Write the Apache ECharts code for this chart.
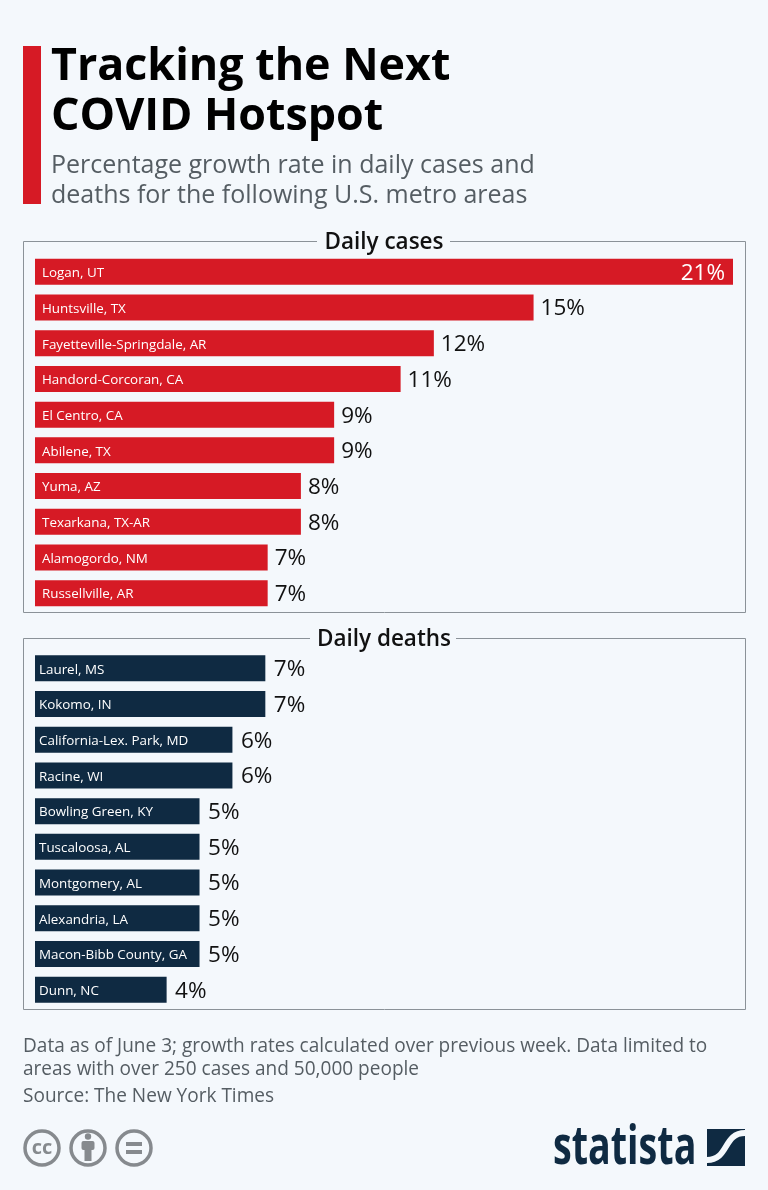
<!DOCTYPE html>
<html>
<head>
    <meta charset="UTF-8">
    <title>Tracking the Next COVID Hotspot</title>
    <style>
        html, body { margin: 0; padding: 0; background: #f4f8fc; }
        #chart { width: 768px; height: 1190px; }
    </style>
    <script src="https://cdn.jsdelivr.net/npm/echarts@6/dist/echarts.min.js"></script>
</head>
<body>
<div id="chart"></div>
<script>
    var caseCities = ['Logan, UT', 'Huntsville, TX', 'Fayetteville-Springdale, AR', 'Handord-Corcoran, CA', 'El Centro, CA',
        'Abilene, TX', 'Yuma, AZ', 'Texarkana, TX-AR', 'Alamogordo, NM', 'Russellville, AR'];
    var caseValues = [21, 15, 12, 11, 9, 9, 8, 8, 7, 7];
    var deathCities = ['Laurel, MS', 'Kokomo, IN', 'California-Lex. Park, MD', 'Racine, WI', 'Bowling Green, KY',
        'Tuscaloosa, AL', 'Montgomery, AL', 'Alexandria, LA', 'Macon-Bibb County, GA', 'Dunn, NC'];
    var deathValues = [7, 7, 6, 6, 5, 5, 5, 5, 5, 4];

    var PAGE = '#f4f8fc', RED = '#d61a25', NAVY = '#0f2a42', GREY = '#555d63', ICON = '#868a8e';
    var SANS = '"Open Sans", sans-serif';

    function text(x, y, str, size, color, weight, align) {
        return {
            type: 'text', x: x, y: y, z: 5,
            style: {
                text: str, fontSize: size, fill: color, fontFamily: SANS,
                fontWeight: weight || 'normal', align: align || 'left', verticalAlign: 'middle'
            }
        };
    }

    function circleIcon(cx) {
        return {type: 'circle', shape: {cx: cx, cy: 1148, r: 17}, style: {fill: 'none', stroke: ICON, lineWidth: 3.5}};
    }

    function valueAxis(idx, max) {
        return {gridIndex: idx, type: 'value', min: 0, max: max, show: false};
    }

    function cityAxis(idx, names, offset) {
        return {
            gridIndex: idx, type: 'category', data: names, inverse: true,
            axisLine: {show: false}, axisTick: {show: false}, splitLine: {show: false},
            axisLabel: {
                inside: true, margin: offset, formatter: '{city|{value}}',
                rich: {city: {color: '#fff', fontSize: 13.4, fontFamily: SANS, padding: [3, 0, 0, 0]}}
            },
            z: 3
        };
    }

    function barSeries(idx, values, color, gap) {
        return {
            type: 'bar', xAxisIndex: idx, yAxisIndex: idx, barWidth: 26, itemStyle: {color: color}, silent: true,
            label: {
                show: true, position: 'right', distance: gap, offset: [0, 1.5], formatter: '{c}%',
                fontSize: 22.5, color: '#111', fontFamily: SANS
            },
            data: values.map(function (v, i) {
                // the longest bar holds its label inside
                if (idx === 0 && i === 0) {
                    return {value: v, label: {position: 'insideRight', distance: 8, color: '#fff'}};
                }
                return v;
            })
        };
    }

    var chart = echarts.init(document.getElementById('chart'), null, {renderer: 'canvas'});
    chart.setOption({
        backgroundColor: PAGE,
        animation: false,
        grid: [
            {left: 35, width: 698, top: 254, height: 357},
            {left: 35, width: 691, top: 650.5, height: 357}
        ],
        xAxis: [valueAxis(0, 21), valueAxis(1, 21)],
        yAxis: [cityAxis(0, caseCities, 7), cityAxis(1, deathCities, 4)],
        series: [barSeries(0, caseValues, RED, 7), barSeries(1, deathValues, NAVY, 8.5)],
        graphic: [
            {type: 'rect', shape: {x: 23, y: 46, width: 18, height: 158}, style: {fill: RED}},
            text(51, 67, 'Tracking the Next', 44.8, '#000', 'bold'),
            text(51, 117, 'COVID Hotspot', 44.8, '#000', 'bold'),
            text(51, 166, 'Percentage growth rate in daily cases and', 25, GREY),
            text(51, 196, 'deaths for the following U.S. metro areas', 25, GREY),

            {type: 'rect', z: -1, shape: {x: 23.5, y: 241.5, width: 722, height: 371}, style: {fill: 'none', stroke: '#8b9298', lineWidth: 1}},
            {type: 'rect', z: 1, shape: {x: 317, y: 232, width: 133, height: 18}, style: {fill: PAGE}},
            text(384, 243, 'Daily cases', 22.5, '#111', '600', 'center'),
            {type: 'rect', z: -1, shape: {x: 23.5, y: 638.5, width: 722, height: 371}, style: {fill: 'none', stroke: '#8b9298', lineWidth: 1}},
            {type: 'rect', z: 1, shape: {x: 310, y: 629, width: 146, height: 18}, style: {fill: PAGE}},
            text(384, 640, 'Daily deaths', 22.5, '#111', '600', 'center'),

            text(23, 1047, 'Data as of June 3; growth rates calculated over previous week. Data limited to', 19.05, GREY),
            text(23, 1070, 'areas with over 250 cases and 50,000 people', 19.05, GREY),
            text(23, 1097, 'Source: The New York Times', 19.05, GREY),

            circleIcon(42), circleIcon(88), circleIcon(134),
            text(42, 1148, 'cc', 20, ICON, 'bold', 'center'),
            {type: 'circle', shape: {cx: 88, cy: 1136.5, r: 3.2}, style: {fill: ICON}},
            {type: 'rect', shape: {x: 81.5, y: 1141, width: 13, height: 9, r: 2}, style: {fill: ICON}},
            {type: 'rect', shape: {x: 84.5, y: 1148, width: 7, height: 13}, style: {fill: ICON}},
            {type: 'rect', shape: {x: 126, y: 1142, width: 16, height: 4}, style: {fill: ICON}},
            {type: 'rect', shape: {x: 126, y: 1150, width: 16, height: 4}, style: {fill: ICON}},

            {type: 'text', x: 553, y: 1149, z: 5, scaleX: 0.71, originX: 0, originY: 0, style: {
                text: 'statista', fontSize: 53, fontWeight: 'bold', fill: NAVY, fontFamily: SANS, verticalAlign: 'middle'
            }},
            {type: 'rect', shape: {x: 707, y: 1129, width: 38, height: 37}, style: {fill: NAVY}},
            {type: 'bezierCurve', z: 6, shape: {x1: 707, y1: 1160, cpx1: 729, cpy1: 1160, cpx2: 723, cpy2: 1133, x2: 745, y2: 1133}, style: {fill: 'none', stroke: PAGE, lineWidth: 6}}
        ]
    });
</script>
</body>
</html>
